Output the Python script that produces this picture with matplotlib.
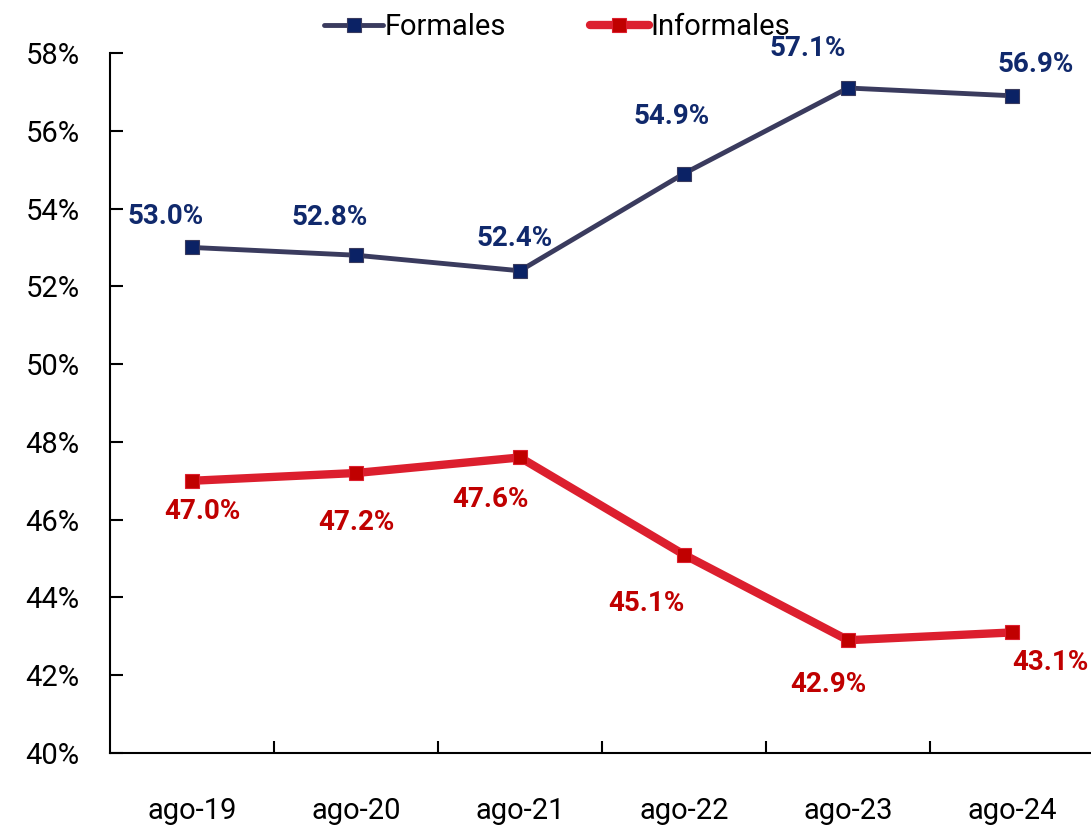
import matplotlib.pyplot as plt
from matplotlib.ticker import FuncFormatter, MultipleLocator

periodos = ["ago-19", "ago-20", "ago-21", "ago-22", "ago-23", "ago-24"]
formales = [53.0, 52.8, 52.4, 54.9, 57.1, 56.9]
informales = [47.0, 47.2, 47.6, 45.1, 42.9, 43.1]

# label offsets in pixels (dx, dy)
off_formales = [(-26, 31), (-26, 38), (-5, 32), (-12, 57), (-40, 39), (24, 31)]
off_informales = [(10, -31), (0, -49), (-29, -42), (-38, -49), (-20, -44), (38, -30)]

LINE_F, MARK_F, TEXT_F = "#3a3b5e", "#0b2265", "#10296c"
LINE_I, MARK_I, TEXT_I = "#dc1f2e", "#c00000", "#c00000"

plt.rcParams["font.family"] = ["Roboto", "DejaVu Sans"]

fig = plt.figure(figsize=(10.91, 8.26), dpi=100)
ax = fig.add_axes([110 / 1091, 73 / 826, 984 / 1091, 700 / 826])

x = range(len(periodos))
ax.plot(x, formales, color=LINE_F, lw=3.5, marker="s", ms=10, mfc=MARK_F,
        mec=LINE_F, mew=0.8, label="Formales", solid_capstyle="round")
ax.plot(x, informales, color=LINE_I, lw=6, marker="s", ms=10, mfc=MARK_I,
        mec=LINE_I, mew=0.8, label="Informales", solid_capstyle="round")

for i, v in enumerate(formales):
    ax.annotate(f"{v:.1f}%", (i, v), xytext=off_formales[i], textcoords="offset pixels",
                ha="center", va="center", fontsize=20, fontweight="bold", color=TEXT_F)
for i, v in enumerate(informales):
    ax.annotate(f"{v:.1f}%", (i, v), xytext=off_informales[i], textcoords="offset pixels",
                ha="center", va="center", fontsize=20, fontweight="bold", color=TEXT_I)

ax.set_xlim(-0.5, len(periodos) - 0.5)
ax.set_ylim(40, 58)
ax.yaxis.set_major_locator(MultipleLocator(2))
ax.yaxis.set_major_formatter(FuncFormatter(lambda v, p: f"{v:.0f}%"))

ax.set_xticks([i + 0.5 for i in range(len(periodos) - 1)])
ax.set_xticklabels([])
ax.set_xticks(list(x), minor=True)
ax.set_xticklabels(periodos, minor=True, fontsize=21)
ax.tick_params(axis="x", which="major", direction="in", length=9, width=1.5)
ax.tick_params(axis="x", which="minor", length=0, pad=32)
ax.tick_params(axis="y", direction="in", length=9, width=1.5, pad=22,
               labelsize=21)

for s in ["top", "right"]:
    ax.spines[s].set_visible(False)
for s in ["left", "bottom"]:
    ax.spines[s].set_linewidth(1.5)

fig.legend(loc="center", bbox_to_anchor=(557 / 1091, 1 - 27 / 826), ncol=2,
           frameon=False, handlelength=2.0, columnspacing=2.9,
           handletextpad=0.05, prop={"size": 21})

fig.savefig("out.png", dpi=100)
